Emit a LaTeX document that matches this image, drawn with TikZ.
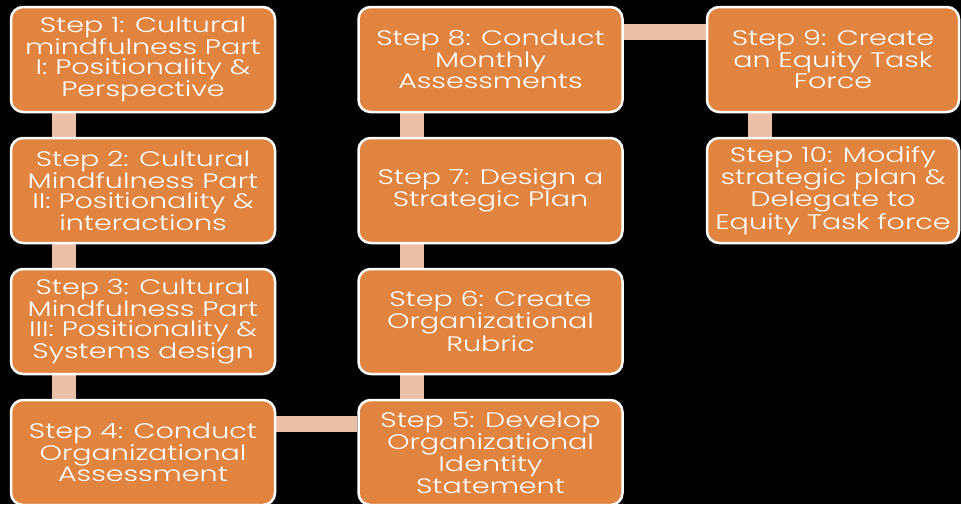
\documentclass[tikz,border=0pt]{standalone}
\usepackage{fontspec}
\setmainfont{Poppins}[UprightFont=* Light, FakeStretch=1.36]
\usetikzlibrary{calc}
\pgfdeclarelayer{back}
\pgfdeclarelayer{bars}
\pgfsetlayers{back,bars,main}
\definecolor{boxorange}{HTML}{E0843F}
\definecolor{barpink}{HTML}{EBBFA8}
\tikzset{
  stepbox/.style={draw=white, line width=2.5pt, fill=boxorange, rounded corners=12pt,
    minimum width=264pt, minimum height=105pt, text=white, align=center,
    font=\fontsize{21pt}{19.5pt}\selectfont, inner sep=0pt},
  vbar/.style={draw=barpink, line width=24pt},
  hbar/.style={draw=barpink, line width=16pt}
}
\begin{document}
\begin{tikzpicture}[x=1pt,y=-1pt]
\begin{pgfonlayer}{back}
\fill[black] (0,0) rectangle (961,504);
\end{pgfonlayer}
\useasboundingbox (0,0) rectangle (961,504);
% column 1
\node[stepbox] (s1) at (143,59.5) {Step 1: Cultural\\mindfulness Part\\I: Positionality \&\\Perspective};
\node[stepbox] (s2) at (143,190.5) {Step 2: Cultural\\Mindfulness Part\\II: Positionality \&\\interactions};
\node[stepbox] (s3) at (143,321.5) {Step 3: Cultural\\Mindfulness Part\\III: Positionality \&\\Systems design};
\node[stepbox] (s4) at (143,452.5) {Step 4: Conduct\\Organizational\\Assessment};
% column 2
\node[stepbox] (s5) at (490.5,452.5) {Step 5: Develop\\Organizational\\Identity\\Statement};
\node[stepbox] (s6) at (490.5,321.5) {Step 6: Create\\Organizational\\Rubric};
\node[stepbox] (s7) at (490.5,190.5) {Step 7: Design a\\Strategic Plan};
\node[stepbox] (s8) at (490.5,59.5) {Step 8: Conduct\\Monthly\\Assessments};
% column 3
\node[stepbox, minimum width=252pt] (s9) at (833,59.5) {Step 9: Create\\an Equity Task\\Force};
\node[stepbox, minimum width=252pt] (s10) at (833,190.5) {Step 10: Modify\\strategic plan \&\\Delegate to\\Equity Task force};
% connectors
\begin{pgfonlayer}{bars}
\draw[vbar] ($(s1.south west)+(54,0)$) -- ($(s2.north west)+(54,0)$);
\draw[vbar] ($(s2.south west)+(54,0)$) -- ($(s3.north west)+(54,0)$);
\draw[vbar] ($(s3.south west)+(54,0)$) -- ($(s4.north west)+(54,0)$);
\draw[hbar] ($(s4.north east)+(0,25)$) -- ($(s5.north west)+(0,25)$);
\draw[vbar] ($(s5.north west)+(55,0)$) -- ($(s6.south west)+(55,0)$);
\draw[vbar] ($(s6.north west)+(55,0)$) -- ($(s7.south west)+(55,0)$);
\draw[vbar] ($(s7.north west)+(55,0)$) -- ($(s8.south west)+(55,0)$);
\draw[hbar] ($(s8.north east)+(0,26.5)$) -- ($(s9.north west)+(0,26.5)$);
\draw[vbar] ($(s9.south west)+(54,0)$) -- ($(s10.north west)+(54,0)$);
\end{pgfonlayer}
\end{tikzpicture}
\end{document}
